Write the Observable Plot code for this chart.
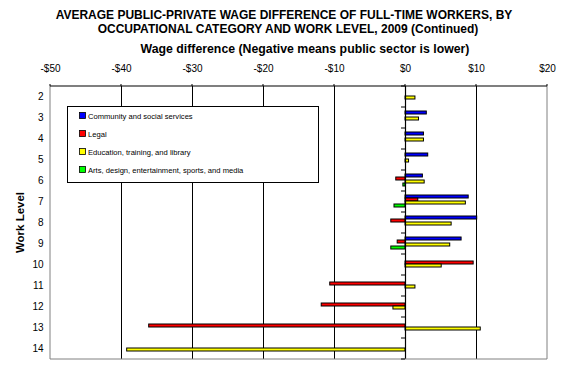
<!DOCTYPE html>
<html>
<head>
<meta charset="utf-8">
<script src="https://cdn.jsdelivr.net/npm/d3@7"></script>
<script src="https://cdn.jsdelivr.net/npm/@observablehq/plot@0.6"></script>
<style>
  html, body { margin: 0; padding: 0; background: white; }
  svg { display: block; }
</style>
</head>
<body>
<div id="chart"></div>
<script>
const titleLines = [
  "AVERAGE PUBLIC-PRIVATE WAGE DIFFERENCE OF FULL-TIME WORKERS, BY",
  "OCCUPATIONAL CATEGORY AND WORK LEVEL, 2009 (Continued)"
];
const xTitle = "Wage difference (Negative means public sector is lower)";
const yTitle = "Work Level";

const levels = [2, 3, 4, 5, 6, 7, 8, 9, 10, 11, 12, 13, 14];
const series = [
  "Community and social services",
  "Legal",
  "Education, training, and library",
  "Arts, design, entertainment, sports, and media"
];
const colors = ["#0000FF", "#FF0000", "#FFFF00", "#00FF00"];

const community = [null, 3.0, 2.6, 3.2, 2.45, 8.9, 10.1, 7.9, null, null, null, null, null];
const legal     = [null, null, null, null, -1.3, 1.8, -2.0, -1.1, 9.6, -10.6, -11.8, -36.1, null];
const education = [1.4, 1.9, 2.6, 0.5, 2.7, 8.5, 6.5, 6.3, 5.1, 1.4, -1.7, 10.6, -39.2];
const arts      = [null, null, null, null, -0.3, -1.55, null, -2.0, null, null, null, null, null];

const xTicks = [-50, -40, -30, -20, -10, 0, 10, 20];
const xTickLabels = ["-$50", "-$40", "-$30", "-$20", "-$10", "$0", "$10", "$20"];

(function () {
const valueArrays = [community, legal, education, arts];
const data = [];
levels.forEach((lv, i) => {
  series.forEach((s, j) => {
    const v = valueArrays[j][i];
    if (v !== null && v !== undefined) data.push({level: lv, series: s, value: v});
  });
});

const FONT = "'Liberation Sans', Arial, sans-serif";

const chart = Plot.plot({
  width: 563,
  height: 386,
  marginTop: 82,
  marginBottom: 24,
  marginLeft: 50,
  marginRight: 16,
  style: {fontFamily: FONT, fontSize: "10px", background: "white", color: "black", overflow: "visible"},
  x: {
    domain: [-50, 20],
    axis: "top",
    ticks: xTicks,
    tickFormat: d => xTickLabels[xTicks.indexOf(d)],
    tickSize: 0,
    tickPadding: 15,
    label: null
  },
  fy: {domain: levels, padding: 0, axis: "left", tickSize: 0, tickPadding: 7, label: null},
  y: {domain: series, paddingInner: 0, paddingOuter: 0.65, align: 0.4, axis: null},
  color: {domain: series, range: colors},
  marks: [
    Plot.ruleX(xTicks.filter(t => t > -50 && t < 20), {stroke: "black", strokeWidth: 1}),
    Plot.barX(data, {fy: "level", y: "series", x1: 0, x2: "value", fill: "series", stroke: "black", strokeWidth: 1}),
    Plot.ruleX([0], {stroke: "black", strokeWidth: 1.2})
  ]
});

document.getElementById("chart").appendChild(chart);

const svg = d3.select(chart);
const xs = chart.scale("x");
const fys = chart.scale("fy");
const xLeft = xs.apply(-50), xRight = xs.apply(20), x0 = xs.apply(0);
const yTop = fys.apply(levels[0]);
const yBottom = fys.apply(levels[levels.length - 1]) + fys.bandwidth;

const g = svg.append("g");
g.append("line").attr("x1", xLeft).attr("x2", xLeft).attr("y1", yTop).attr("y2", yBottom).attr("stroke", "#808080");
g.append("line").attr("x1", xRight).attr("x2", xRight).attr("y1", yTop).attr("y2", yBottom).attr("stroke", "#808080");
g.append("line").attr("x1", xLeft).attr("x2", xRight).attr("y1", yBottom).attr("y2", yBottom).attr("stroke", "#808080");
g.append("line").attr("x1", xLeft).attr("x2", xRight).attr("y1", yTop).attr("y2", yTop).attr("stroke", "black").attr("stroke-width", 1.2);
xTicks.forEach(t => {
  g.append("line").attr("x1", xs.apply(t)).attr("x2", xs.apply(t)).attr("y1", yTop - 2).attr("y2", yTop).attr("stroke", "black");
});
levels.forEach(lv => {
  const yb = fys.apply(lv);
  g.append("line").attr("x1", x0 - 4).attr("x2", x0).attr("y1", yb).attr("y2", yb).attr("stroke", "black");
});
g.append("line").attr("x1", x0 - 4).attr("x2", x0).attr("y1", yBottom).attr("y2", yBottom).attr("stroke", "black");

const tg = svg.append("g").attr("font-family", FONT).attr("font-weight", "bold").attr("fill", "black").attr("text-anchor", "middle");
tg.append("text").attr("x", 284).attr("y", 19).attr("font-size", 12).text(titleLines[0]);
tg.append("text").attr("x", 288).attr("y", 33).attr("font-size", 12).text(titleLines[1]);
tg.append("text").attr("x", 305).attr("y", 53).attr("font-size", 12.3).text(xTitle);
tg.append("text").attr("transform", `translate(24, ${(yTop + yBottom) / 2}) rotate(-90)`).attr("font-size", 11.5).text(yTitle);

const lg = svg.append("g").attr("font-family", FONT).attr("text-anchor", "start");
lg.append("rect").attr("x", 67.5).attr("y", 106.5).attr("width", 251).attr("height", 76).attr("fill", "white").attr("stroke", "black");
series.forEach((s, i) => {
  const cy = 116 + i * 18;
  lg.append("rect").attr("x", 79.5).attr("y", cy - 3.5).attr("width", 6).attr("height", 6).attr("fill", colors[i]).attr("stroke", "black").attr("stroke-width", 0.8);
  lg.append("text").attr("x", 88).attr("y", cy).attr("dy", "0.35em").attr("font-size", 7.6).attr("fill", "black").text(s);
});
})();
</script>
</body>
</html>
